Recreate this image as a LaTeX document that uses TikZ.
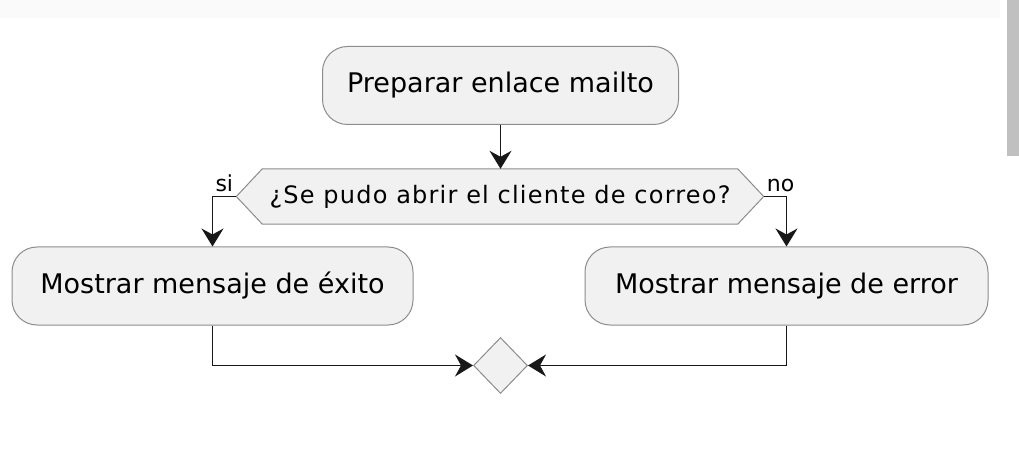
\documentclass[tikz,border=0pt]{standalone}
\usepackage{fontspec}
\setmainfont{DejaVu Sans}
\usetikzlibrary{arrows.meta, shapes.geometric, positioning, backgrounds}
\definecolor{boxfill}{HTML}{F1F1F1}
\definecolor{boxline}{HTML}{8C8C8C}
\definecolor{linecol}{HTML}{181818}
\definecolor{barcol}{HTML}{C0C0C0}
\definecolor{bandcol}{HTML}{FAFAFA}

\begin{document}
\begin{tikzpicture}[x=1pt, y=-1pt,
  act/.style={draw=boxline, fill=boxfill, line width=1pt, rounded corners=25pt, minimum height=78pt, inner sep=0pt, font=\fontsize{27}{32}\selectfont},
  askbox/.style={minimum width=527pt, minimum height=55pt, inner sep=0pt, font=\fontsize{24}{28}\selectfont\addfontfeatures{LetterSpace=5}},
  mergebox/.style={diamond, draw=boxline, fill=boxfill, line width=1pt, minimum width=54pt, minimum height=56pt, inner sep=0pt},
  lbl/.style={inner sep=0pt, font=\fontsize{22}{26}\selectfont},
  wire/.style={draw=linecol, line width=1.5pt, -{Stealth[length=18pt, width=22pt, inset=6pt]}}]
  \useasboundingbox (0,0) rectangle (1019,454);
  \fill[bandcol] (0,0) rectangle (1000,18);
  \fill[barcol] (1007,0) rectangle (1019,156);

  \node[act, minimum width=356pt] (prep) at (500.5,85.5) {Preparar enlace mailto};
  \node[askbox] (check) at (500,196.5) {¿Se pudo abrir el cliente de correo?};
  \node[act, minimum width=401pt] (ok) at (212.5,286) {Mostrar mensaje de éxito};
  \node[act, minimum width=403pt] (fail) at (786.5,286) {Mostrar mensaje de error};
  \node[mergebox] (merge) at (500.5,365.5) {};

  \begin{scope}[on background layer]
    \draw[boxline, fill=boxfill, line width=1pt] (check.west) -- ([xshift=26pt]check.north west) -- ([xshift=-26pt]check.north east)
      -- (check.east) -- ([xshift=-26pt]check.south east) -- ([xshift=26pt]check.south west) -- cycle;
  \end{scope}

  \node[lbl, anchor=south east] (yes) at ([xshift=-3pt, yshift=4pt]check.west) {si};
  \node[lbl, anchor=south west] (no) at ([xshift=3pt, yshift=4pt]check.east) {no};

  \draw[wire] (prep.south) -- (prep.south |- check.north);
  \draw[wire] (check.west) -| (ok.north);
  \draw[wire] (check.east) -| (fail.north);
  \draw[wire] (ok.south) |- (merge.west);
  \draw[wire] (fail.south) |- (merge.east);
\end{tikzpicture}
\end{document}
